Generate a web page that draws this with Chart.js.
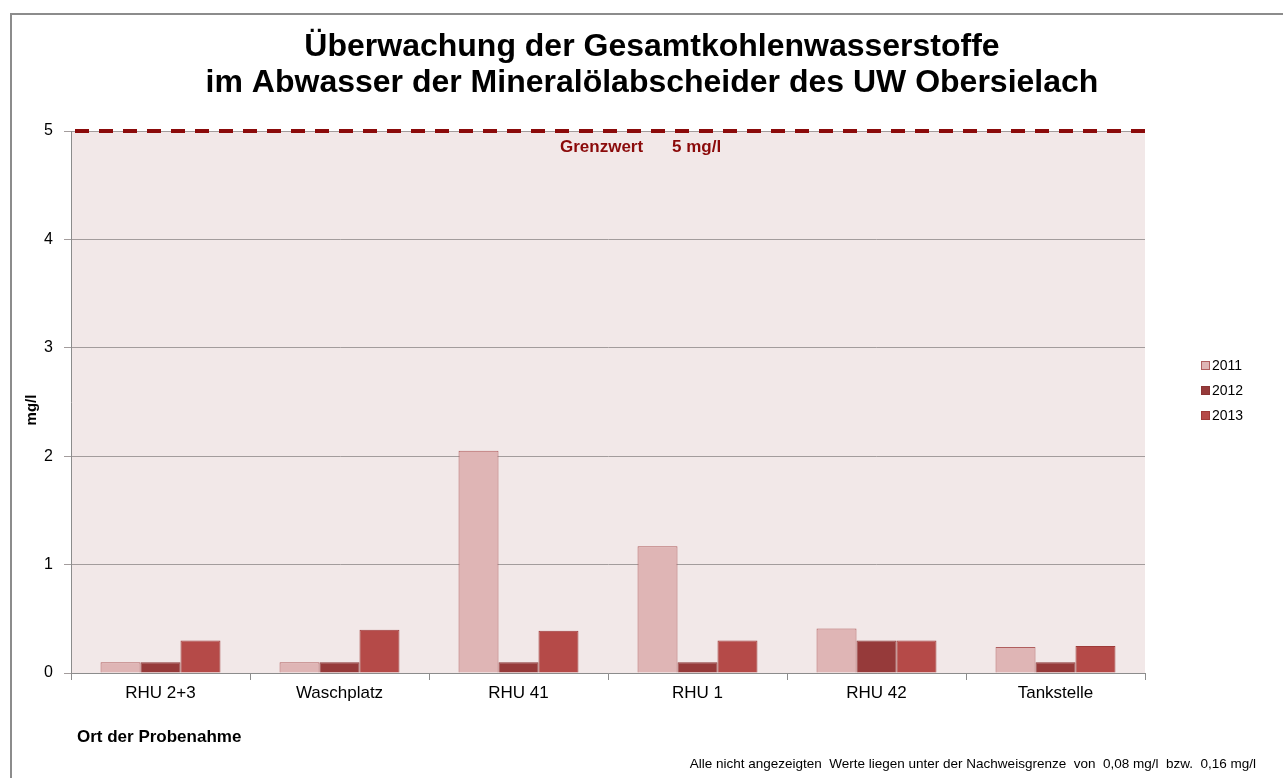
<!DOCTYPE html>
<html>
<head>
<meta charset="utf-8">
<script src="https://cdn.jsdelivr.net/npm/chart.js@4/dist/chart.umd.min.js"></script>
<style>
  html, body { margin: 0; padding: 0; background: #fff; }
  #wrap { width: 1283px; height: 778px; position: relative; }
</style>
</head>
<body>
<div id="wrap"><canvas id="myChart"></canvas></div>
<script>
const locations = ['RHU 2+3', 'Waschplatz', 'RHU 41', 'RHU 1', 'RHU 42', 'Tankstelle'];
const years = ['2011', '2012', '2013'];
const values2011 = [0.1, 0.1, 2.05, 1.17, 0.41, 0.24];
const values2012 = [0.1, 0.1, 0.1, 0.1, 0.3, 0.1];
const values2013 = [0.3, 0.4, 0.39, 0.3, 0.3, 0.25];
const yTicks = [0, 1, 2, 3, 4, 5];
const limitValue = 5;

const fillColors = ['#dfb5b5', '#963a3a', '#b54a48'];
const edgeColors = ['#b05e5e', '#8a3434', '#9e3a38'];

const FONT = '"Liberation Sans", Arial, sans-serif';

// background of plot, outer frame, titles, limit line, legend
const decorations = {
  id: 'decorations',
  beforeDraw(chart) {
    const ctx = chart.ctx;
    const a = chart.chartArea;
    ctx.save();
    ctx.fillStyle = '#ffffff';
    ctx.fillRect(0, 0, chart.width, chart.height);
    ctx.strokeStyle = '#8c8c8c';
    ctx.lineWidth = 2;
    ctx.strokeRect(11, 14, 1300, 800);
    ctx.fillStyle = '#f2e8e8';
    ctx.fillRect(a.left, a.top, a.right - a.left, a.bottom - a.top);
    ctx.restore();
  },
  afterDatasetsDraw(chart) {
    const ctx = chart.ctx;
    const a = chart.chartArea;
    const y = chart.scales.y.getPixelForValue(limitValue);
    ctx.save();
    ctx.strokeStyle = '#8b0a0a';
    ctx.lineWidth = 4;
    ctx.setLineDash([14, 10]);
    ctx.beginPath();
    ctx.moveTo(a.left + 4, y);
    ctx.lineTo(a.right, y);
    ctx.stroke();
    ctx.setLineDash([]);

    ctx.fillStyle = '#8b0a0a';
    ctx.font = 'bold 17px ' + FONT;
    ctx.textBaseline = 'middle';
    ctx.textAlign = 'left';
    ctx.fillText('Grenzwert', 560, 147);
    ctx.fillText(limitValue + ' mg/l', 672, 147);

    // titles
    ctx.fillStyle = '#000';
    ctx.textAlign = 'center';
    ctx.font = 'bold 32px ' + FONT;
    ctx.fillText('Überwachung der Gesamtkohlenwasserstoffe', 652, 47);
    ctx.fillText('im Abwasser der Mineralölabscheider des UW Obersielach', 652, 83);

    // axis titles
    ctx.font = 'bold 15px ' + FONT;
    ctx.save();
    ctx.translate(32, 410);
    ctx.rotate(-Math.PI / 2);
    ctx.fillText('mg/l', 0, 0);
    ctx.restore();
    ctx.textAlign = 'left';
    ctx.font = 'bold 17px ' + FONT;
    ctx.fillText('Ort der Probenahme', 77, 737);

    ctx.font = '13.5px ' + FONT;
    ctx.textAlign = 'right';
    ctx.fillText('Alle nicht angezeigten  Werte liegen unter der Nachweisgrenze  von  0,08 mg/l  bzw.  0,16 mg/l', 1256, 764);

    // legend
    ctx.font = '14px ' + FONT;
    ctx.textAlign = 'left';
    chart.data.datasets.forEach((ds, i) => {
      const ly = 365 + i * 25;
      ctx.fillStyle = ds.backgroundColor;
      ctx.fillRect(1201, ly - 4, 9, 9);
      ctx.strokeStyle = ds.borderColor;
      ctx.lineWidth = 1;
      ctx.strokeRect(1201.5, ly - 3.5, 8, 8);
      ctx.fillStyle = '#000';
      ctx.fillText(ds.label, 1212, ly + 1);
    });
    ctx.restore();
  }
};

const seriesValues = [values2011, values2012, values2013];

new Chart(document.getElementById('myChart'), {
  type: 'bar',
  data: {
    labels: locations,
    datasets: years.map((yr, i) => ({
      label: yr,
      data: seriesValues[i],
      backgroundColor: fillColors[i],
      borderColor: edgeColors[i],
      borderWidth: 1,
      categoryPercentage: 0.67,
      barPercentage: 1.0
    }))
  },
  options: {
    responsive: true,
    maintainAspectRatio: false,
    animation: false,
    layout: { padding: { left: 0, top: 131, right: 138, bottom: 0 } },
    plugins: {
      legend: { display: false },
      title: { display: false },
      tooltip: { enabled: false }
    },
    scales: {
      x: {
        afterFit(scale) { scale.height = 105; },
        grid: {
          offset: true,
          drawOnChartArea: false,
          drawTicks: true,
          tickLength: 7,
          color: '#8c8c8c'
        },
        border: { color: '#8c8c8c', width: 1 },
        ticks: {
          color: '#000',
          font: { family: FONT, size: 17 },
          padding: 3
        }
      },
      y: {
        min: 0,
        max: 5,
        afterFit(scale) { scale.width = 71; },
        afterBuildTicks(scale) { scale.ticks = yTicks.map(v => ({ value: v })); },
        grid: {
          color: '#a39c9c',
          lineWidth: 1,
          drawTicks: true,
          tickLength: 7
        },
        border: { color: '#8c8c8c', width: 1 },
        ticks: {
          color: '#000',
          font: { family: FONT, size: 16 },
          padding: 11
        }
      }
    }
  },
  plugins: [decorations]
});
</script>
</body>
</html>
